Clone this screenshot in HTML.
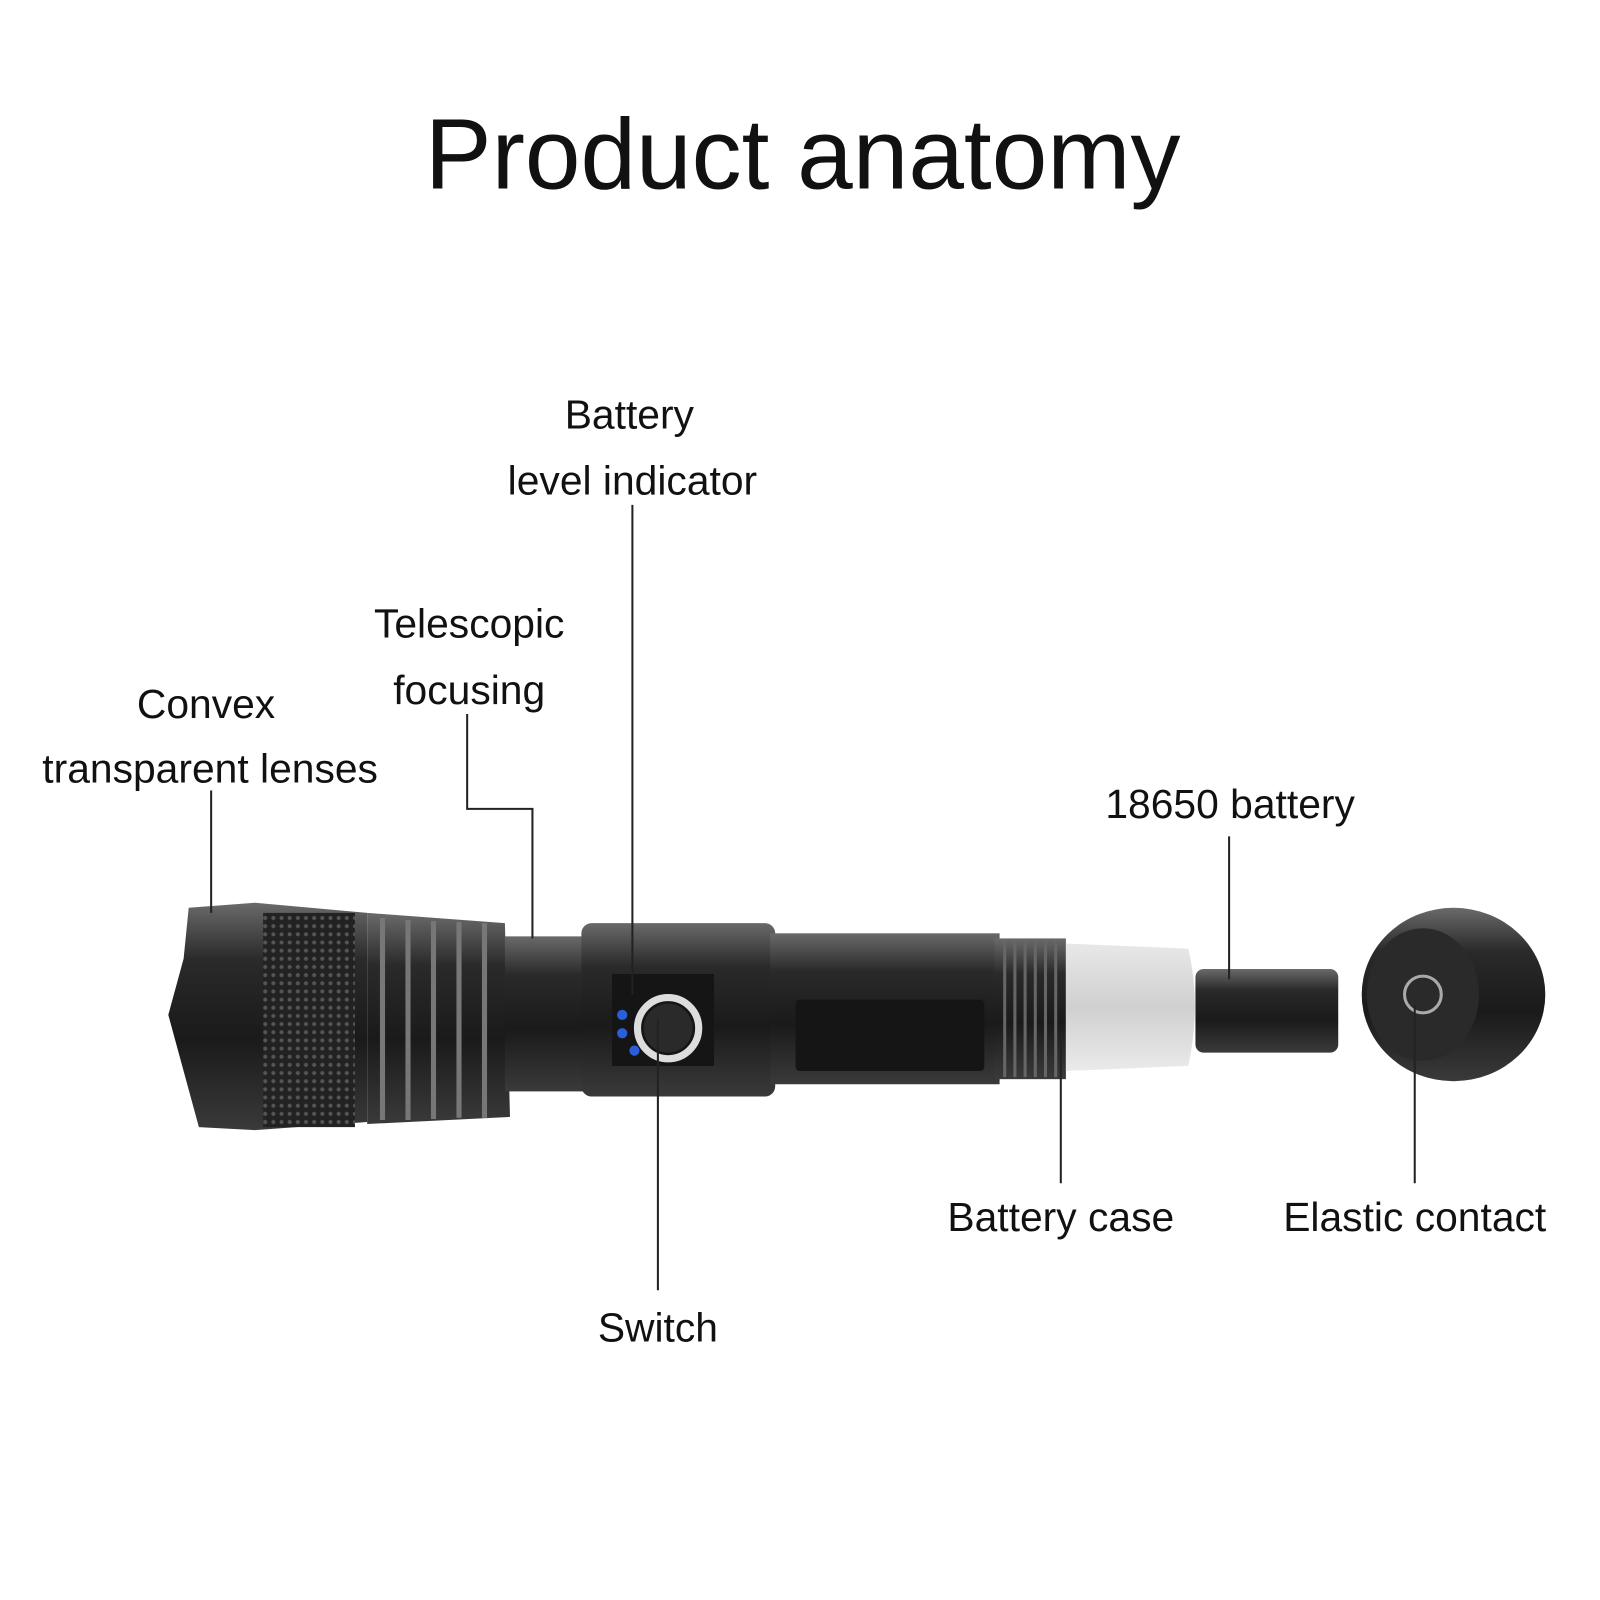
<!DOCTYPE html>
<html><head><meta charset="utf-8"><style>
html,body{margin:0;padding:0;background:#fff;}
svg{display:block}
text{font-family:"Liberation Sans",sans-serif;fill:#111}
</style></head><body>
<svg width="1600" height="1600" viewBox="0 0 1600 1600" xmlns="http://www.w3.org/2000/svg">
<defs>
<linearGradient id="g" x1="0" y1="0" x2="0" y2="1">
<stop offset="0" stop-color="#6a6a6a"/><stop offset="0.25" stop-color="#2a2a2a"/><stop offset="0.6" stop-color="#1a1a1a"/><stop offset="1" stop-color="#3a3a3a"/></linearGradient>
<linearGradient id="gl" x1="0" y1="0" x2="0" y2="1">
<stop offset="0" stop-color="#e8e8e8"/><stop offset="0.5" stop-color="#d0d0d0"/><stop offset="1" stop-color="#eaeaea"/></linearGradient>
<pattern id="knurl" width="8" height="8" patternUnits="userSpaceOnUse"><rect width="8" height="8" fill="#222"/><circle cx="4" cy="4" r="2" fill="#555"/></pattern>
</defs>
<g transform="scale(1.02)">
<text x="787" y="185" font-size="98" text-anchor="middle">Product anatomy</text>

<path d="M185 890 L250 885 L360 895 L360 1100 L250 1108 L195 1105 L180 1050 L165 995 L180 940 Z" fill="url(#g)"/>
<rect x="258" y="895" width="90" height="210" fill="url(#knurl)"/>
<path d="M360 895 L495 905 L500 1095 L360 1102 Z" fill="url(#g)"/>
<g stroke="#777" stroke-width="5">
<line x1="375" y1="900" x2="375" y2="1098"/><line x1="400" y1="902" x2="400" y2="1098"/><line x1="425" y1="903" x2="425" y2="1097"/><line x1="450" y1="904" x2="450" y2="1096"/><line x1="475" y1="905" x2="475" y2="1096"/></g>
<rect x="495" y="918" width="80" height="152" fill="url(#g)"/>
<rect x="570" y="905" width="190" height="170" rx="10" fill="url(#g)"/>
<rect x="600" y="955" width="100" height="90" fill="#151515"/>
<circle cx="655" cy="1008" r="30" fill="none" stroke="#ddd" stroke-width="7"/>
<circle cx="655" cy="1008" r="24" fill="#2a2a2a"/>
<circle cx="610" cy="995" r="5" fill="#2b5fd9"/><circle cx="610" cy="1013" r="5" fill="#2b5fd9"/><circle cx="622" cy="1030" r="5" fill="#2b5fd9"/>
<rect x="755" y="915" width="225" height="148" fill="url(#g)"/>
<rect x="780" y="980" width="185" height="70" rx="4" fill="#151515"/>
<rect x="975" y="920" width="70" height="138" fill="url(#g)"/>
<g stroke="#666" stroke-width="3"><line x1="985" y1="922" x2="985" y2="1056"/><line x1="995" y1="922" x2="995" y2="1056"/><line x1="1005" y1="922" x2="1005" y2="1056"/><line x1="1015" y1="922" x2="1015" y2="1056"/><line x1="1025" y1="922" x2="1025" y2="1056"/><line x1="1035" y1="922" x2="1035" y2="1056"/></g>
<path d="M1045 925 L1165 930 Q1178 985 1165 1045 L1045 1050 Z" fill="url(#gl)"/>
<rect x="1172" y="950" width="140" height="82" rx="8" fill="url(#g)"/>
<ellipse cx="1425" cy="975" rx="90" ry="85" fill="url(#g)"/>
<ellipse cx="1395" cy="975" rx="55" ry="65" fill="#2a2a2a"/>
<circle cx="1395" cy="975" r="18" fill="none" stroke="#aaa" stroke-width="3"/>

<g stroke="#222" stroke-width="2" fill="none">
<line x1="207" y1="775" x2="207" y2="895"/>
<polyline points="458,700 458,793 522,793 522,920"/>
<line x1="620" y1="495" x2="620" y2="975"/>
<line x1="645" y1="1000" x2="645" y2="1265"/>
<line x1="1205" y1="820" x2="1205" y2="960"/>
<line x1="1040" y1="1020" x2="1040" y2="1160"/>
<line x1="1387" y1="985" x2="1387" y2="1160"/>
</g>

<g font-size="40" text-anchor="middle">
<text x="617" y="420">Battery</text>
<text x="620" y="485">level indicator</text>
<text x="460" y="625">Telescopic</text>
<text x="460" y="690">focusing</text>
<text x="202" y="704">Convex</text>
<text x="206" y="767">transparent lenses</text>
<text x="1206" y="802">18650 battery</text>
<text x="1040" y="1207">Battery case</text>
<text x="1387" y="1207">Elastic contact</text>
<text x="645" y="1315">Switch</text>
</g>
</g>
</svg>
</body></html>
